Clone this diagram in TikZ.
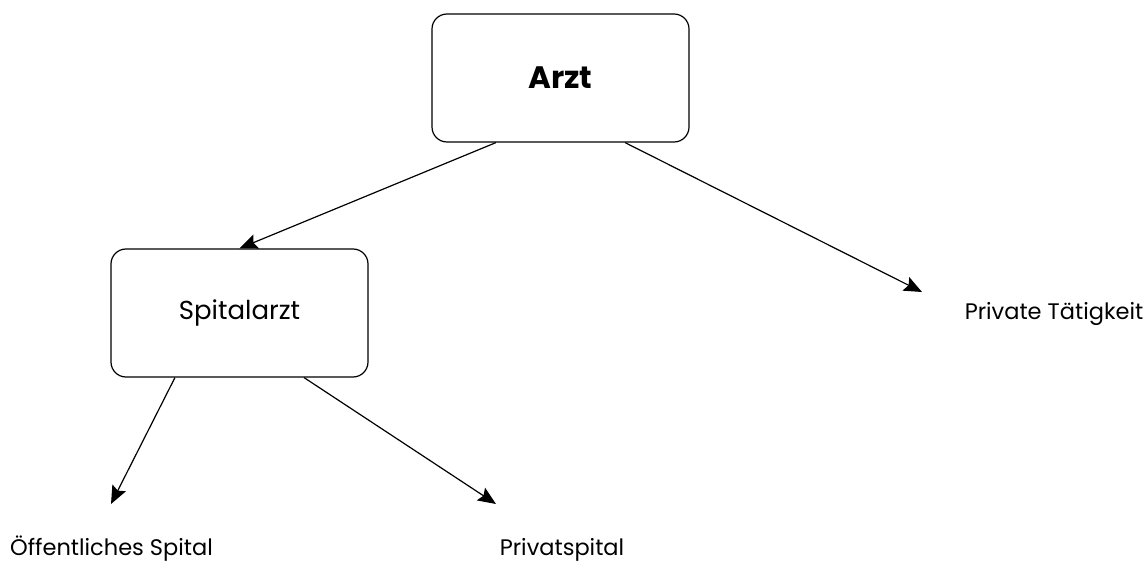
\documentclass[tikz,border=0pt]{standalone}
\usepackage{fontspec}
\setmainfont{Poppins}
\usetikzlibrary{arrows.meta,calc}

\tikzset{
  box/.style={draw,rounded corners=15pt,minimum width=257pt,minimum height=128pt,line width=1.2pt},
  label/.style={anchor=base,font=\fontsize{22.5}{27}\selectfont},
  pfeil/.style={line width=1.2pt,-{Stealth[length=18pt,width=15pt,inset=3pt]}}
}

\begin{document}
\begin{tikzpicture}[x=1pt,y=-1pt]
		\useasboundingbox (0,0) rectangle (1144,561);
		
		\node[box,font=\bfseries\fontsize{31}{36}\selectfont] (arzt) at (560.5,78) {Arzt};
		\node[box,font=\fontsize{26}{31}\selectfont] (spitalarzt) at (239.5,313) {Spitalarzt};
		
		\node[label] (privat) at (1054,320) {Private Tätigkeit};
		\node[label] (oeff) at (111.5,555) {Öffentliches Spital};
		\node[label] (privatspital) at (562,555) {Privatspital};
		
		\coordinate (e1) at (922,292);
		\coordinate (e2) at (111,504);
		\coordinate (e3) at (496,504);
		
		\draw[pfeil] ($(arzt.south west)!0.25!(arzt.south east)$) -- (spitalarzt.north);
		\draw[pfeil] ($(arzt.south west)!0.75!(arzt.south east)$) -- (e1);
		\draw[pfeil] ($(spitalarzt.south west)!0.25!(spitalarzt.south east)$) -- (e2);
		\draw[pfeil] ($(spitalarzt.south west)!0.75!(spitalarzt.south east)$) -- (e3);
\end{tikzpicture}
\end{document}
